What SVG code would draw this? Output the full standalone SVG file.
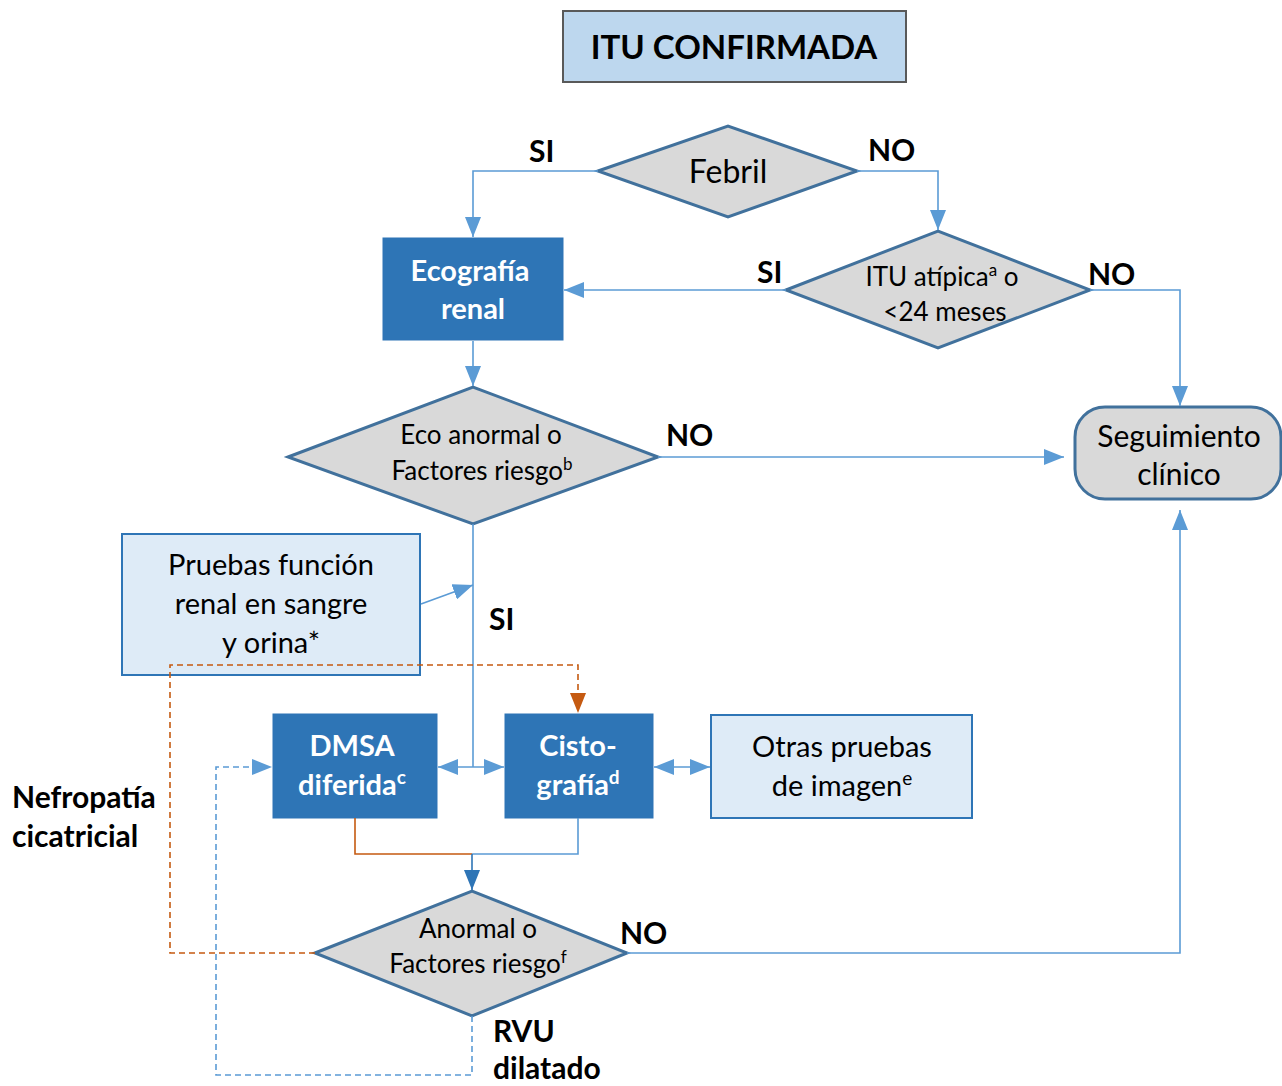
<svg xmlns="http://www.w3.org/2000/svg" width="1282" height="1086" viewBox="0 0 1282 1086">
<style>
text{font-family:Lato,"Open Sans","Liberation Sans",sans-serif;text-anchor:middle;fill:#000}
.dia{fill:#d9d9d9;stroke:#41719c;stroke-width:3}
.dark{fill:#2e75b6;stroke:#2e75b6;stroke-width:1}
.light{fill:#deebf7;stroke:#2e75b6;stroke-width:2}
.wt{fill:#fff;font-weight:bold;font-size:29px}
.dt{font-size:26px}
.bt{font-size:29px}
.lbl{font-weight:bold;font-size:30px;text-anchor:start}
.ln{fill:none;stroke:#5b9bd5;stroke-width:1.6}
.or{fill:none;stroke:#c55a11;stroke-width:1.6}
.dsh{stroke-dasharray:6,4}
</style>
<defs>
<marker id="ab" markerUnits="userSpaceOnUse" markerWidth="20" markerHeight="16" refX="20" refY="8" orient="auto-start-reverse"><path d="M0,0 L20,8 L0,16 z" fill="#5b9bd5"/></marker>
<marker id="ad" markerUnits="userSpaceOnUse" markerWidth="20" markerHeight="16" refX="20" refY="8" orient="auto"><path d="M0,0 L20,8 L0,16 z" fill="#2e75b6"/></marker>
<marker id="ao" markerUnits="userSpaceOnUse" markerWidth="20" markerHeight="16" refX="20" refY="8" orient="auto"><path d="M0,0 L20,8 L0,16 z" fill="#c55a11"/></marker>
</defs>

<g id="title">
<rect x="563" y="11" width="343" height="71" fill="#bdd7ee" stroke="#595959" stroke-width="2"/>
<text x="734" y="59" font-size="33" font-weight="bold">ITU CONFIRMADA</text>
</g>

<g id="febril">
<polygon class="dia" points="598,171 728,126 857,171 728,217"/>
<text x="728" y="183" font-size="32">Febril</text>
</g>

<g id="ecografia">
<rect class="dark" x="383" y="238" width="180" height="102"/>
<text class="wt" x="470" y="281">Ecografía</text>
<text class="wt" x="473" y="319">renal</text>
</g>

<g id="itu-atipica">
<polygon class="dia" points="786,290 938,231 1090,290 938,348"/>
<text class="dt" x="942" y="286">ITU atípica<tspan font-size="17" dy="-10">a</tspan><tspan dy="10"> o</tspan></text>
<text class="dt" x="945" y="321">&lt;24 meses</text>
</g>

<g id="seguimiento">
<rect x="1075" y="407" width="206" height="92" rx="30" fill="#d9d9d9" stroke="#41719c" stroke-width="3"/>
<text x="1179" y="447" font-size="30">Seguimiento</text>
<text x="1179" y="485" font-size="30">clínico</text>
</g>

<g id="eco-anormal">
<polygon class="dia" points="288,457 473,387 658,457 473,524"/>
<text class="dt" x="481" y="444">Eco anormal o</text>
<text class="dt" x="482" y="480">Factores riesgo<tspan font-size="17" dy="-10">b</tspan></text>
</g>

<g id="pruebas">
<rect class="light" x="122" y="534" width="298" height="141"/>
<text class="bt" x="271" y="575">Pruebas función</text>
<text class="bt" x="271" y="614">renal en sangre</text>
<text class="bt" x="271" y="653">y orina*</text>
</g>

<g id="dmsa">
<rect class="dark" x="273" y="714" width="164" height="104"/>
<text class="wt" x="352" y="756">DMSA</text>
<text class="wt" x="352" y="795">diferida<tspan font-size="19" dy="-11">c</tspan></text>
</g>

<g id="cistografia">
<rect class="dark" x="505" y="714" width="148" height="104"/>
<text class="wt" x="578" y="756">Cisto-</text>
<text class="wt" x="578" y="795">grafía<tspan font-size="19" dy="-11">d</tspan></text>
</g>

<g id="otras">
<rect class="light" x="711" y="715" width="261" height="103"/>
<text class="bt" x="842" y="757">Otras pruebas</text>
<text class="bt" x="842" y="796">de imagen<tspan font-size="19" dy="-11">e</tspan></text>
</g>

<g id="anormal">
<polygon class="dia" points="315,953 472,891 627,953 472,1016"/>
<text class="dt" x="478" y="938">Anormal o</text>
<text class="dt" x="478" y="973">Factores riesgo<tspan font-size="17" dy="-10">f</tspan></text>
</g>

<g id="connectors">
<polyline class="ln" points="598,171 473,171 473,237" marker-end="url(#ab)"/>
<polyline class="ln" points="857,171 938,171 938,230" marker-end="url(#ab)"/>
<line class="ln" x1="786" y1="290" x2="564" y2="290" marker-end="url(#ab)"/>
<polyline class="ln" points="1090,290 1180,290 1180,406" marker-end="url(#ab)"/>
<line class="ln" x1="473" y1="341" x2="473" y2="386" marker-end="url(#ab)"/>
<line class="ln" x1="658" y1="457" x2="1064" y2="457" marker-end="url(#ab)"/>
<line class="ln" x1="473" y1="524" x2="473" y2="767"/>
<line class="ln" x1="421" y1="604" x2="473" y2="585" marker-end="url(#ab)"/>
<line class="ln" x1="438" y1="767" x2="504" y2="767" marker-start="url(#ab)" marker-end="url(#ab)"/>
<line class="ln" x1="654" y1="767" x2="710" y2="767" marker-start="url(#ab)" marker-end="url(#ab)"/>
<polyline class="or" points="355,818 355,854 472,854"/>
<polyline class="ln" points="578,818 578,854 472,854"/>
<line x1="472" y1="854" x2="472" y2="890" stroke="#2e75b6" stroke-width="1.6" marker-end="url(#ad)"/>
<polyline class="ln" points="627,953 1180,953 1180,510" marker-end="url(#ab)"/>
<polyline class="or dsh" points="315,953 170,953 170,665 578,665 578,713" marker-end="url(#ao)"/>
<polyline class="ln dsh" points="472,1016 472,1075 216,1075 216,767 272,767" marker-end="url(#ab)"/>
</g>

<g id="labels">
<text class="lbl" x="529" y="162">SI</text>
<text class="lbl" x="868" y="161">NO</text>
<text class="lbl" x="757" y="283">SI</text>
<text class="lbl" x="1088" y="285">NO</text>
<text class="lbl" x="666" y="446">NO</text>
<text class="lbl" x="489" y="630">SI</text>
<text class="lbl" x="620" y="944">NO</text>
<text class="lbl" x="12" y="808">Nefropatía</text>
<text class="lbl" x="12" y="847">cicatricial</text>
<text class="lbl" x="493" y="1042">RVU</text>
<text class="lbl" x="493" y="1079">dilatado</text>
</g>
</svg>
